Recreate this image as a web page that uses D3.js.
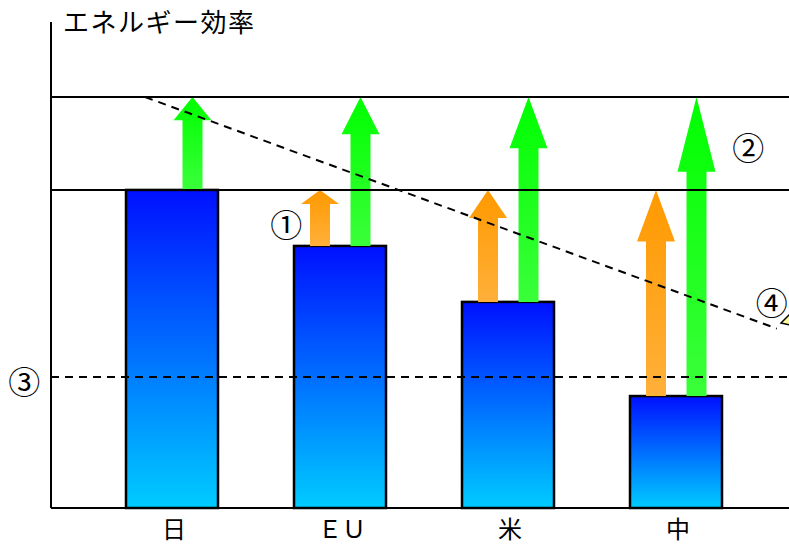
<!DOCTYPE html>
<html>
<head>
<meta charset="utf-8">
<script src="https://cdn.jsdelivr.net/npm/d3@7/dist/d3.min.js"></script>
<style>
  html, body { margin: 0; padding: 0; background: #fff; }
  svg { display: block; }
  text { font-family: "Noto Sans CJK JP", "Noto Sans", sans-serif; fill: #000; }
</style>
</head>
<body>
<svg id="chart" width="789" height="547"></svg>
<script>
// Regions and their energy efficiency (index, Japan = 100)
const categories = ["日", "ＥＵ", "米", "中"];
const efficiency = [100, 82.4, 64.8, 35.2];

// Reference levels
const japanLevel = 100;     // ① catch-up level
const targetLevel = 129.2;  // ② improved level
const floorLevel = 41.2;    // ③ dashed level
const axisMax = 152.8;

// Dashed trend line, x given in category-index units
const trendIndex = [-0.16, 3.6];
const trendValue = [129.2, 56.4];

// Circled markers: text, category-index x, value y
const markerText = ["①", "②", "③", "④"];
const markerIndex = [0.68, 3.43, -0.88, 3.57];
const markerValue = [89.6, 113.9, 40.2, 65.0];

const svg = d3.select("#chart");
const W = 789, H = 547;
const x0 = 51, yBottom = 508, yTop = 22;

const x = d3.scaleBand()
  .domain(categories)
  .range([42, 806])
  .paddingInner(1 - 92 / 168)
  .paddingOuter(0.5);

const y = d3.scaleLinear().domain([0, axisMax]).range([yBottom, yTop]);

// index -> pixel, through the band centres
const xi = d3.scaleLinear()
  .domain([0, 1])
  .range([x(categories[0]) + x.bandwidth() / 2, x(categories[1]) + x.bandwidth() / 2]);

const defs = svg.append("defs");
function vGrad(id, top, bottom) {
  const g = defs.append("linearGradient").attr("id", id)
    .attr("x1", 0).attr("y1", 0).attr("x2", 0).attr("y2", 1);
  g.append("stop").attr("offset", "0%").attr("stop-color", top);
  g.append("stop").attr("offset", "100%").attr("stop-color", bottom);
}
vGrad("barGrad", "#0010ff", "#00ccff");
vGrad("greenGrad", "#00ff00", "#3aff3a");
vGrad("orangeGrad", "#ff9900", "#ffb03a");

// Bars
svg.append("g").selectAll("rect")
  .data(categories)
  .join("rect")
  .attr("x", d => x(d))
  .attr("y", (d, i) => y(efficiency[i]))
  .attr("width", x.bandwidth())
  .attr("height", (d, i) => yBottom - y(efficiency[i]))
  .attr("fill", "url(#barGrad)")
  .attr("stroke", "#000")
  .attr("stroke-width", 2.5);

// Block arrow from y0 (base) up to y1 (tip)
function arrowPath(cx, y0, y1) {
  const head = 0.25 * (y0 - y1);
  const sw = 10, hw = 19;
  return `M${cx - sw},${y0} L${cx - sw},${y1 + head} L${cx - hw},${y1 + head} L${cx},${y1} ` +
         `L${cx + hw},${y1 + head} L${cx + sw},${y1 + head} L${cx + sw},${y0} Z`;
}

const arrows = svg.append("g");
categories.forEach((c, i) => {
  const cx = x(c) + x.bandwidth() / 2;
  if (efficiency[i] < japanLevel) {
    arrows.append("path")
      .attr("d", arrowPath(cx - 20, y(efficiency[i]), y(japanLevel)))
      .attr("fill", "url(#orangeGrad)");
  }
  arrows.append("path")
    .attr("d", arrowPath(cx + 20.5, y(efficiency[i]), y(targetLevel)))
    .attr("fill", "url(#greenGrad)");
});

// Reference lines
const lines = svg.append("g").attr("stroke", "#000").attr("fill", "none");
[targetLevel, japanLevel].forEach(v => {
  lines.append("line")
    .attr("x1", x0).attr("x2", W)
    .attr("y1", y(v)).attr("y2", y(v))
    .attr("stroke-width", 2);
});
lines.append("line")
  .attr("x1", x0).attr("x2", W)
  .attr("y1", y(floorLevel)).attr("y2", y(floorLevel))
  .attr("stroke-width", 2)
  .attr("stroke-dasharray", "8,6");
lines.append("line")
  .attr("x1", xi(trendIndex[0])).attr("y1", y(trendValue[0]))
  .attr("x2", xi(trendIndex[1])).attr("y2", y(trendValue[1]))
  .attr("stroke-width", 2)
  .attr("stroke-dasharray", "8,6");

// Small callout tip at the right edge
svg.append("path")
  .attr("d", "M781,323 L790,314 L790,325 Z")
  .attr("fill", "#ffff99")
  .attr("stroke", "#000")
  .attr("stroke-width", 1.5);

// Axes
svg.append("line")
  .attr("x1", x0).attr("x2", x0).attr("y1", yTop).attr("y2", yBottom)
  .attr("stroke", "#000").attr("stroke-width", 2);
svg.append("line")
  .attr("x1", x0).attr("x2", W).attr("y1", yBottom).attr("y2", yBottom)
  .attr("stroke", "#000").attr("stroke-width", 2);

// Category labels
const xAxis = d3.axisBottom(x).tickSize(0).tickPadding(13);
const gx = svg.append("g").attr("transform", `translate(2,${yBottom})`).call(xAxis);
gx.select(".domain").remove();
gx.selectAll("text")
  .style("font-size", "24px")
  .style("font-family", "'Noto Sans CJK JP', sans-serif")
  .attr("fill", "#000");

// Title
svg.append("text")
  .attr("x", 63).attr("y", 32)
  .style("font-size", "26px")
  .style("letter-spacing", "1.5px")
  .text("エネルギー効率");

// Circled markers
svg.append("g").selectAll("text")
  .data(markerText)
  .join("text")
  .attr("x", (d, i) => xi(markerIndex[i]))
  .attr("y", (d, i) => y(markerValue[i]))
  .attr("text-anchor", "middle")
  .attr("dominant-baseline", "central")
  .style("font-size", "32px")
  .text(d => d);
</script>
</body>
</html>
